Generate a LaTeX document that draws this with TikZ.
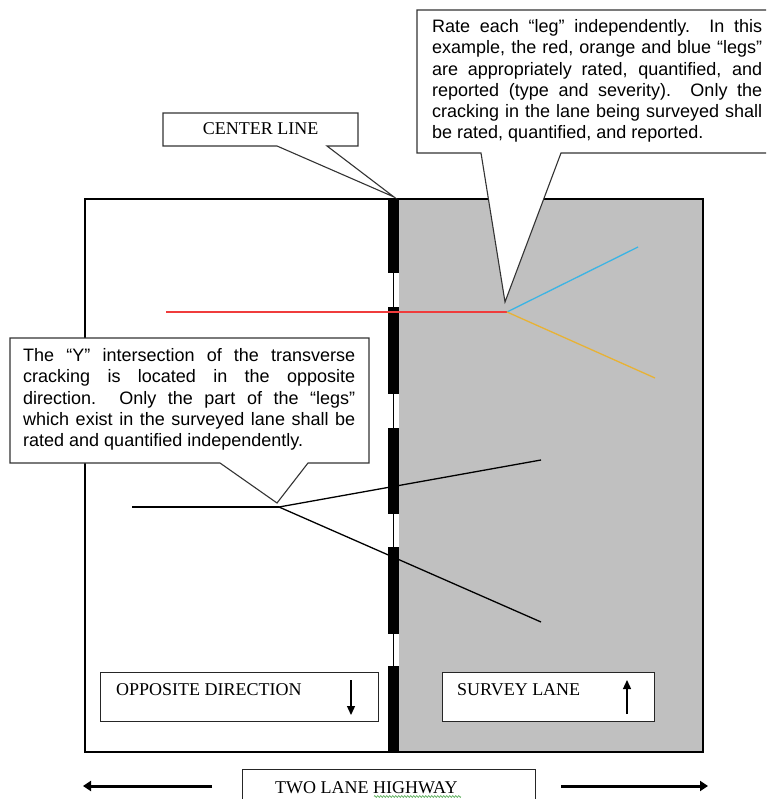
\documentclass[tikz,border=0pt]{standalone}
\usepackage{fontspec}
\setmainfont{Liberation Serif}
\newfontfamily\arialfont{Liberation Sans}
\usetikzlibrary{arrows.meta,decorations.pathmorphing}
\definecolor{lanegray}{HTML}{C0C0C0}
\definecolor{crackred}{HTML}{F03C3C}
\definecolor{crackblue}{HTML}{3CB4E4}
\definecolor{crackorange}{HTML}{E8B234}
\definecolor{spellgreen}{HTML}{4CA64C}
\begin{document}
\begin{tikzpicture}[x=1pt,y=-1pt,
  roadedge/.style={draw=black,line width=1.2pt},
  dashmark/.style={fill=black},
  crack/.style={line width=1.3pt},
  callout/.style={draw=black!80,fill=white,line width=1.1pt,line join=miter},
  labelbox/.style={draw=black!85,fill=white,line width=1.1pt,inner sep=0pt,anchor=north west},
  calltext/.style={font=\arialfont\fontsize{18}{21.2}\selectfont,align=justify,inner sep=0pt,anchor=north west},
  boxtext/.style={font=\fontsize{18}{21}\selectfont,inner sep=0pt,anchor=base west},
  smallarrow/.style={line width=1.3pt,-{Triangle[length=9pt,width=8pt]}},
  bigarrow/.style={line width=3pt,-{Triangle[length=8pt,width=10pt]}}]
\clip (0,0) rectangle (766,799);
\fill[white] (0,0) rectangle (766,799);

% two-lane road: plain opposite lane, shaded survey lane
\fill[lanegray] (399,199) rectangle (703,752);
\draw[roadedge] (85,199) rectangle (703,752);

% center line with its dash marks
\coordinate (cltop) at (393.5,199);
\coordinate (clbot) at (393.5,752);
\draw[line width=1.5pt] (cltop) -- (clbot);
\foreach \ya/\yb in {199/273, 307/394, 428/514, 547/634, 666/752}
  \fill[dashmark] (388,\ya) rectangle (399,\yb);

% Y crack located in the survey lane
\coordinate (redstart) at (166,312);
\coordinate (yright) at (507,312);
\coordinate (blueend) at (638,247);
\coordinate (orangeend) at (655,378);
\draw[crack,crackred] (redstart) -- (yright);
\draw[crack,crackblue] (yright) -- (blueend);
\draw[crack,crackorange] (yright) -- (orangeend);

% Y crack located in the opposite direction
\coordinate (blackstart) at (132,507);
\coordinate (yleft) at (279,507);
\coordinate (upperleg) at (541,460);
\coordinate (lowerleg) at (541,622);
\draw[crack] (blackstart) -- (yleft);
\draw[crack] (yleft) -- (upperleg);
\draw[crack] (yleft) -- (lowerleg);

% callout: center line
\draw[callout] (163,113) -- (358,113) -- (358,146) -- (327,146)
  -- (394,197) -- (277,146) -- (163,146) -- cycle;
\node[boxtext,anchor=base] (centertext) at (260.5,135) {CENTER LINE};

% callout: survey lane legs
\draw[callout] (417,10) -- (780,10) -- (780,153) -- (561,153)
  -- (505,302) -- (481,153) -- (417,153) -- cycle;
\node[calltext,text width=330pt] (ratetext) at (432,19.5)
  {Rate each “leg” independently.\ \ In this\linebreak
   example, the red, orange and blue “legs”\linebreak
   are appropriately rated, quantified, and\linebreak
   reported (type and severity).\ \ Only the\linebreak
   cracking in the lane being surveyed shall\linebreak
   be rated, quantified, and reported.};

% callout: opposite-direction intersection
\draw[callout] (10,338) -- (369,338) -- (369,463) -- (308,463)
  -- (277,503) -- (220,463) -- (10,463) -- cycle;
\node[calltext,text width=332pt] (ytext) at (23,348.5)
  {The “Y” intersection of the transverse\linebreak
   cracking is located in the opposite\linebreak
   direction.\ \ Only the part of the “legs”\linebreak
   which exist in the surveyed lane shall be\linebreak
   rated and quantified independently.};

% lane labels with travel directions
\node[labelbox,minimum width=278pt,minimum height=49pt] (oppbox) at (100,672) {};
\node[boxtext] (opptext) at (116,695) {OPPOSITE DIRECTION};
\coordinate (downtop) at (351,680);
\coordinate (downtip) at (351,715);
\draw[smallarrow] (downtop) -- (downtip);

\node[labelbox,minimum width=212pt,minimum height=49pt] (surveybox) at (442,672) {};
\node[boxtext] (surveytext) at (457,695) {SURVEY LANE};
\coordinate (upbot) at (627,714);
\coordinate (uptip) at (627,680);
\draw[smallarrow] (upbot) -- (uptip);

% highway caption
\node[labelbox,minimum width=293pt,minimum height=45pt] (hwybox) at (242,769) {};
\node[boxtext] (hwytext) at (275,793) {TWO LANE HIGHWAY};
\draw[spellgreen,line width=0.6pt,decorate,
  decoration={zigzag,amplitude=0.9pt,segment length=3pt}] (374,796.5) -- (461,796.5);
\coordinate (leftstart) at (212,786);
\coordinate (lefttip) at (83,786);
\coordinate (rightstart) at (561,786);
\coordinate (righttip) at (708,786);
\draw[bigarrow] (leftstart) -- (lefttip);
\draw[bigarrow] (rightstart) -- (righttip);
\end{tikzpicture}
\end{document}
